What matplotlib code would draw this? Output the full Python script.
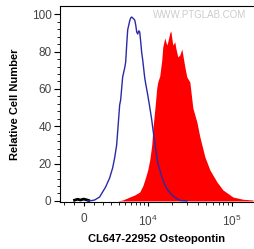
import matplotlib
matplotlib.use("Agg")
import matplotlib.pyplot as plt
import numpy as np

# =========================
# DATOS
# =========================

# Control (linea azul): intensidad CL647 vs % de celulas
blue_x = [396, 596, 1104, 1632, 1963, 2306, 2789, 3172, 3438, 3715, 3858, 4151,
          4302, 4615, 4940, 5109, 5281, 5457, 5820, 6009, 6201, 6399, 6807, 7019,
          7236, 7458, 7686, 7919, 8158, 8404, 8655, 9177, 9448, 10011, 10603, 11226,
          11551, 12224, 13302, 14070, 14878, 16174, 17576, 19628, 21911, 24451, 29608]
blue_y = [0, 0, 0.5, 2.1, 4.8, 7.5, 12.3, 17.7, 23.0, 30.0, 37.0, 51.4,
          54.1, 66.4, 71.2, 74.4, 83.5, 91.6, 96.4, 98.0, 98.5, 98.0, 96.9, 94.3,
          90.5, 89.4, 91.1, 90.5, 85.2, 79.3, 75.5, 65.9, 62.7, 56.8, 50.3, 43.4,
          39.1, 31.1, 20.4, 16.6, 12.9, 8.6, 5.9, 3.2, 1.6, 0.3, 0]

# Osteopontin (relleno rojo)
red_x = [3438, 3858, 4615, 5820, 6807, 7919, 8655, 9177, 10011, 10603, 11226,
         11551, 12224, 12934, 13302, 14070, 14878, 15299, 16174, 17096, 17576,
         18575, 19095, 19628, 20176, 21317, 21911, 23147, 24451, 25827, 28035,
         29608, 32133, 34870, 38881, 42186, 48330, 55363, 66950, 78778, 103297,
         135452, 177598]
red_y = [0, 0, 0.5, 2.1, 3.2, 4.8, 8.0, 11.2, 16.6, 22.0, 30.0,
         38.0, 48.7, 60.5, 63.7, 67.0, 75.5, 82.5, 87.3, 83.5, 85.2,
         90.0, 91.1, 87.3, 83.5, 85.2, 81.9, 77.1, 78.2, 81.4, 71.8,
         66.4, 63.7, 49.8, 42.3, 34.3, 23.6, 16.6, 10.2, 5.9, 2.1,
         0.9, 0.5]

# Ruido cerca de cero sobre el eje
noise_x = [-900, -600, -300, 0, 300, 500]
noise_y = [0.4, 0.9, 0.5, 1.0, 0.6, 0.3]

x_major = [0, 1e4, 1e5]
x_major_labels = ["0", "$10^4$", "$10^5$"]
x_minor = [-2000, -1000, 1000, 2000, 3000, 4000, 5000, 6000, 7000, 8000, 9000,
           20000, 30000, 40000, 50000, 60000, 70000, 80000, 90000]
y_major = [0, 20, 40, 60, 80, 100]

X_LABEL = "CL647-22952 Osteopontin"
Y_LABEL = "Relative Cell Number"
WATERMARK = "WWW.PTGLAB.COM"

ASINH_W = 3650.0


def fwd(x):
    return np.arcsinh(np.asarray(x, dtype=float) / ASINH_W)


def inv(y):
    return ASINH_W * np.sinh(np.asarray(y, dtype=float))


def main() -> None:
    plt.rcParams["font.family"] = ["Liberation Sans", "DejaVu Sans"]
    plt.rcParams["mathtext.default"] = "regular"

    fig = plt.figure(figsize=(2.54, 2.49), dpi=100)
    ax = fig.add_axes([0.2343, 0.19, 0.7657, 0.7859])

    ax.set_xscale("function", functions=(fwd, inv))
    ax.set_xlim(-2544, 182500)
    ax.set_ylim(-0.4, 104.4)

    ax.fill_between(red_x, red_y, 0, color="#ff0000", lw=0, zorder=2)
    ax.plot(noise_x, noise_y, color="black", lw=2.0, zorder=3)
    ax.plot(blue_x, blue_y, color="#2a2aa8", lw=1.0, zorder=4)

    ax.set_xticks(x_major)
    ax.set_xticklabels(x_major_labels)
    ax.set_xticks(x_minor, minor=True)
    ax.set_yticks(y_major)
    ax.set_yticks(np.arange(0, 101, 4), minor=True)

    ax.tick_params(axis="both", which="major", direction="out", width=0.8,
                   labelsize=8.5, labelcolor="#444444")
    ax.tick_params(axis="y", which="major", length=4.3, pad=1.5)
    ax.tick_params(axis="x", which="major", length=3, pad=5.5)
    ax.tick_params(axis="both", which="minor", direction="out", length=2,
                   width=0.6)

    for side in ["left", "bottom", "top"]:
        ax.spines[side].set_linewidth(0.8)
    ax.spines["right"].set_visible(False)

    ax.set_xlabel(X_LABEL, fontsize=8, fontweight="bold", labelpad=4)
    ax.set_ylabel(Y_LABEL, fontsize=8, fontweight="bold", labelpad=8)

    ax.text(0.48, 0.955, WATERMARK, transform=ax.transAxes, fontsize=7,
            color="#cccccc", ha="left", va="center")

    fig.savefig("out.png", dpi=100)


if __name__ == "__main__":
    main()
